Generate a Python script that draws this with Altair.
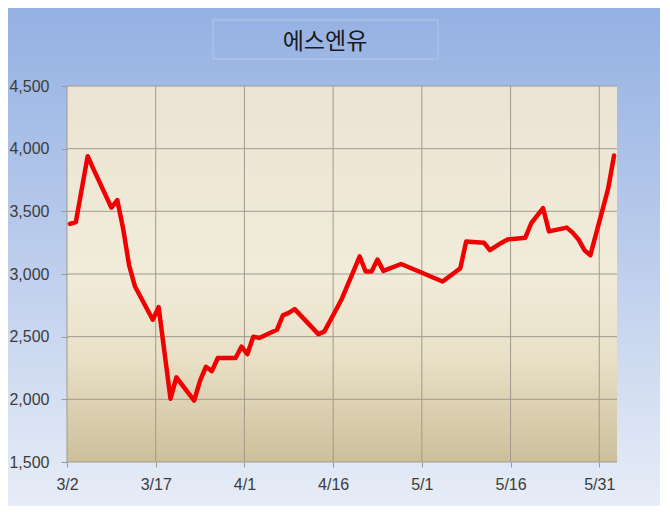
import altair as alt
import pandas as pd

# ---- data (2020 trading days) ----
days = ["3/2", "3/3", "3/4", "3/5", "3/6", "3/9", "3/10", "3/11", "3/12", "3/13",
        "3/16", "3/17", "3/18", "3/19", "3/20", "3/23", "3/24", "3/25", "3/26", "3/27",
        "3/30", "3/31", "4/1", "4/2", "4/3", "4/6", "4/7", "4/8", "4/9", "4/10",
        "4/13", "4/14", "4/16", "4/17", "4/20", "4/21", "4/22", "4/23", "4/24",
        "4/27", "4/28", "4/29", "5/4", "5/6", "5/7", "5/8", "5/11", "5/12", "5/13",
        "5/14", "5/15", "5/18", "5/19", "5/20", "5/21", "5/22", "5/25", "5/26",
        "5/27", "5/28", "5/29", "6/1", "6/2"]
prices = [3400, 3415, 3680, 3940, 3835, 3530, 3590, 3360, 3070, 2900,
          2635, 2735, 2370, 2005, 2175, 1990, 2150, 2260, 2225, 2330,
          2330, 2420, 2360, 2500, 2490, 2555, 2670, 2690, 2720, 2670,
          2520, 2540, 2715, 2805, 3140, 3020, 3020, 3115, 3025,
          3080, 3060, 3040, 2940, 3010, 3045, 3260, 3250, 3190, 3220,
          3250, 3275, 3290, 3405, 3465, 3525, 3340, 3370, 3330,
          3275, 3190, 3150, 3680, 3945]
x_ticks = ["3/2", "3/17", "4/1", "4/16", "5/1", "5/16", "5/31"]
y_ticks = [1500, 2000, 2500, 3000, 3500, 4000, 4500]
title_text = "에스엔유"
YEAR = 2020


def iso(md, hour):
    m, d = md.split("/")
    return f"{YEAR}-{int(m):02d}-{int(d):02d}T{hour:02d}:00:00"


df = pd.DataFrame({"date": [iso(d, 12) for d in days], "price": prices})
xtick_df = pd.DataFrame({"date": [iso(d, 0) for d in x_ticks]})
ytick_df = pd.DataFrame({"price": y_ticks})
one = pd.DataFrame({"a": [0]})

W, H = 550, 376
LABEL_FONT = "Liberation Sans"

x_scale = alt.Scale(domain=[alt.DateTime(year=YEAR, month=3, date=2),
                            alt.DateTime(year=YEAR, month=6, date=3)])
y_scale = alt.Scale(domain=[1500, 4500], nice=False, zero=False)

page_bg = alt.Chart(one).mark_rect(
    fill=alt.Gradient(gradient="linear",
                      stops=[alt.GradientStop(color="#94b1e3", offset=0),
                             alt.GradientStop(color="#bccdec", offset=0.5),
                             alt.GradientStop(color="#e7edf7", offset=1)],
                      x1=0, x2=0, y1=0, y2=1)
).encode(x=alt.value(-59), x2=alt.value(593), y=alt.value(-78), y2=alt.value(420))

plot_bg = alt.Chart(one).mark_rect(
    fill=alt.Gradient(gradient="linear",
                      stops=[alt.GradientStop(color="#ebe4d4", offset=0),
                             alt.GradientStop(color="#f1ebd9", offset=0.5),
                             alt.GradientStop(color="#e9e0c7", offset=0.72),
                             alt.GradientStop(color="#cdbf9a", offset=1)],
                      x1=0, x2=0, y1=0, y2=1)
).encode(x=alt.value(0), x2=alt.value(W), y=alt.value(0), y2=alt.value(H))

title_box = alt.Chart(one).mark_rect(
    fill="#9cb6e4", fillOpacity=0.0, stroke="#b4c7ea", strokeWidth=1
).encode(x=alt.value(146), x2=alt.value(371), y=alt.value(-66), y2=alt.value(-27))

title = alt.Chart(one).mark_text(
    text=title_text, font="Noto Sans CJK KR", fontSize=23, color="#1a1a1a",
    align="center", baseline="middle"
).encode(x=alt.value(258), y=alt.value(-44))

vgrid = alt.Chart(xtick_df).mark_rule(color="#a09a8e", strokeWidth=1).encode(
    x=alt.X("date:T", scale=x_scale), y=alt.value(0), y2=alt.value(H))

hgrid = alt.Chart(ytick_df).mark_rule(color="#a09a8e", strokeWidth=1).encode(
    y=alt.Y("price:Q", scale=y_scale), x=alt.value(0), x2=alt.value(W))

line = alt.Chart(df).mark_line(
    color="#f00000", strokeWidth=4.5, strokeJoin="round", strokeCap="round"
).encode(
    x=alt.X("date:T", scale=x_scale,
            axis=alt.Axis(values=[alt.DateTime(year=YEAR, month=int(t.split('/')[0]),
                                               date=int(t.split('/')[1])) for t in x_ticks],
                          format="%-m/%-d", grid=False, domain=False, ticks=True,
                          tickSize=5, tickColor="#a09a8e", labelPadding=9,
                          labelFlush=False, labelOverlap=False,
                          labelFontSize=16, labelFont=LABEL_FONT, labelColor="#3c3c3c",
                          title=None, zindex=1)),
    y=alt.Y("price:Q", scale=y_scale,
            axis=alt.Axis(values=y_ticks, format=",d", grid=False, domain=False,
                          ticks=True, tickSize=6, tickColor="#a09a8e", labelPadding=12,
                          labelFlush=False, labelOverlap=False,
                          labelFontSize=16, labelFont=LABEL_FONT, labelColor="#3c3c3c",
                          title=None, zindex=1)),
)

chart = alt.layer(page_bg, plot_bg, title_box, title, vgrid, hgrid, line).properties(
    width=W, height=H, padding=0
).configure_view(stroke=None)

chart.save("out.html", embed_options={"renderer": "svg", "actions": False})
